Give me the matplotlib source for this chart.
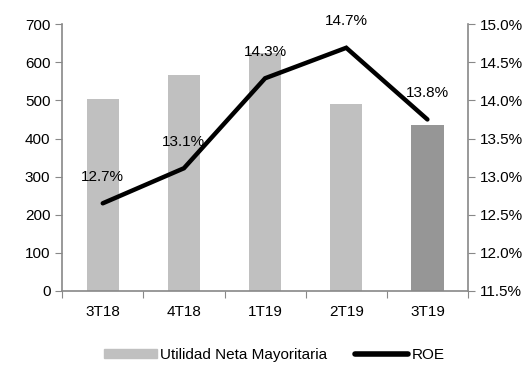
import numpy as np
import matplotlib.pyplot as plt
from matplotlib.patches import Patch
from matplotlib.lines import Line2D

plt.rcParams['font.family'] = ['Liberation Sans', 'DejaVu Sans']

quarters = ['3T18', '4T18', '1T19', '2T19', '3T19']
utilidad = [504, 567, 625, 491, 436]
roe = [12.65, 13.11, 14.29, 14.69, 13.75]
roe_labels = ['12.7%', '13.1%', '14.3%', '14.7%', '13.8%']
bar_colors = ['#c0c0c0', '#c0c0c0', '#c0c0c0', '#c0c0c0', '#969696']

axis_gray = '#888888'
fs = 11

fig = plt.figure(figsize=(5.27, 3.66), dpi=100)
ax = fig.add_axes([0.118, 0.205, 0.77, 0.729])
ax2 = ax.twinx()

x = np.arange(len(quarters))
ax.bar(x, utilidad, width=0.4, color=bar_colors, zorder=2)
ax.set_xlim(-0.5, len(quarters) - 0.5)
ax.set_ylim(0, 700)
ax.set_yticks(range(0, 701, 100))

ax2.plot(x, roe, color='black', lw=3.2, solid_capstyle='round', solid_joinstyle='miter', zorder=3)
ax2.set_ylim(11.5, 15.0)
ax2.set_yticks(np.arange(11.5, 15.01, 0.5))
ax2.set_yticklabels([f'{v:.1f}%' for v in np.arange(11.5, 15.01, 0.5)])
for xi, v, lab in zip(x, roe, roe_labels):
    ax2.annotate(lab, (xi, v), xytext=(0, 19), textcoords='offset points',
                 ha='center', va='center', fontsize=fs)

# category ticks at boundaries, labels at centres
ax.set_xticks(np.arange(-0.5, len(quarters), 1.0))
ax.set_xticklabels([])
ax.set_xticks(x, minor=True)
ax.set_xticklabels(quarters, minor=True)
ax.tick_params(axis='x', which='minor', length=0, pad=10, labelsize=fs)
ax.tick_params(axis='x', which='major', length=5, direction='out', color=axis_gray)
ax.tick_params(axis='y', length=5, direction='out', color=axis_gray, labelsize=fs)
ax2.tick_params(axis='y', length=5, direction='out', color=axis_gray, labelsize=fs)

for a in (ax, ax2):
    a.spines['top'].set_visible(False)
    for s in ('left', 'right', 'bottom'):
        a.spines[s].set_color(axis_gray)
        a.spines[s].set_linewidth(1.2)
ax.spines['right'].set_visible(False)
ax2.spines['left'].set_visible(False)
ax2.spines['bottom'].set_visible(False)

handles = [Patch(color='#c0c0c0', label='Utilidad Neta Mayoritaria'),
           Line2D([0], [0], color='black', lw=4, solid_capstyle='round', label='ROE')]
fig.legend(handles=handles, loc='center', bbox_to_anchor=(0.52, 0.03), ncol=2,
           frameon=False, fontsize=fs, handlelength=3.5, handleheight=0.6,
           handletextpad=0.2, columnspacing=1.8)

fig.savefig('out.png', dpi=100)
